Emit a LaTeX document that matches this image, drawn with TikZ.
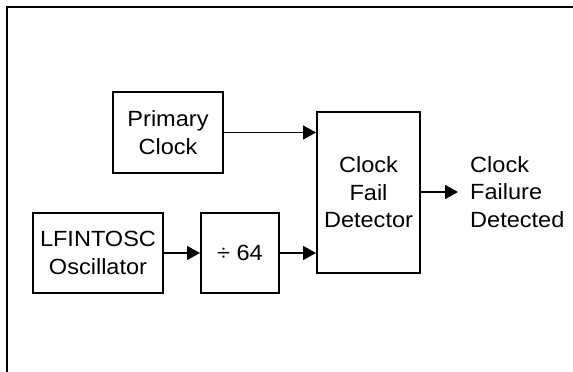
\documentclass[tikz,border=0pt]{standalone}
\usepackage{fontspec}
\setmainfont{Liberation Sans}[FakeStretch=1.07]
\usetikzlibrary{arrows.meta}

\tikzset{
  blockbox/.style={draw, line width=2pt, align=center, inner sep=0pt,
    font=\fontsize{22}{27.5}\selectfont},
  sigline/.style={line width=1.7pt, -{Triangle[length=13pt,width=14pt]}}
}

\begin{document}
\begin{tikzpicture}[x=1pt,y=1pt,yscale=-1,xscale=1]
\useasboundingbox (0,0) rectangle (573,372);

%Shape: Frame
\draw [line width=2.5pt] (7,373) -- (7,7) -- (574,7);

%Shape: Rectangle [id:primary]
\node (primary) [blockbox, minimum width=110pt, minimum height=81pt] at (168,132.5) {Primary\\Clock};
%Shape: Rectangle [id:lfosc]
\node (lfosc) [blockbox, minimum width=130pt, minimum height=80pt] at (98,253) {LFINTOSC\\Oscillator};
%Shape: Rectangle [id:div]
\node (div) [blockbox, minimum width=78pt, minimum height=80pt] at (240,253) {÷ 64};
%Shape: Rectangle [id:cfd]
\node (cfd) [blockbox, minimum width=103pt, minimum height=161pt] at (368.5,192.5) {Clock\\Fail\\Detector};

% Text Node
\node (fail) [anchor=west, align=left, inner sep=0pt, font=\fontsize{22}{27.5}\selectfont] at (470,192) {Clock\\Failure\\Detected};
\coordinate (failin) at (458,192);

%Straight Lines
\draw [sigline] (primary.east) -- (primary.east -| cfd.west);
\draw [sigline] (lfosc.east) -- (div.west);
\draw [sigline] (div.east) -- (div.east -| cfd.west);
\draw [sigline] (cfd.east |- failin) -- (failin);

\end{tikzpicture}
\end{document}
